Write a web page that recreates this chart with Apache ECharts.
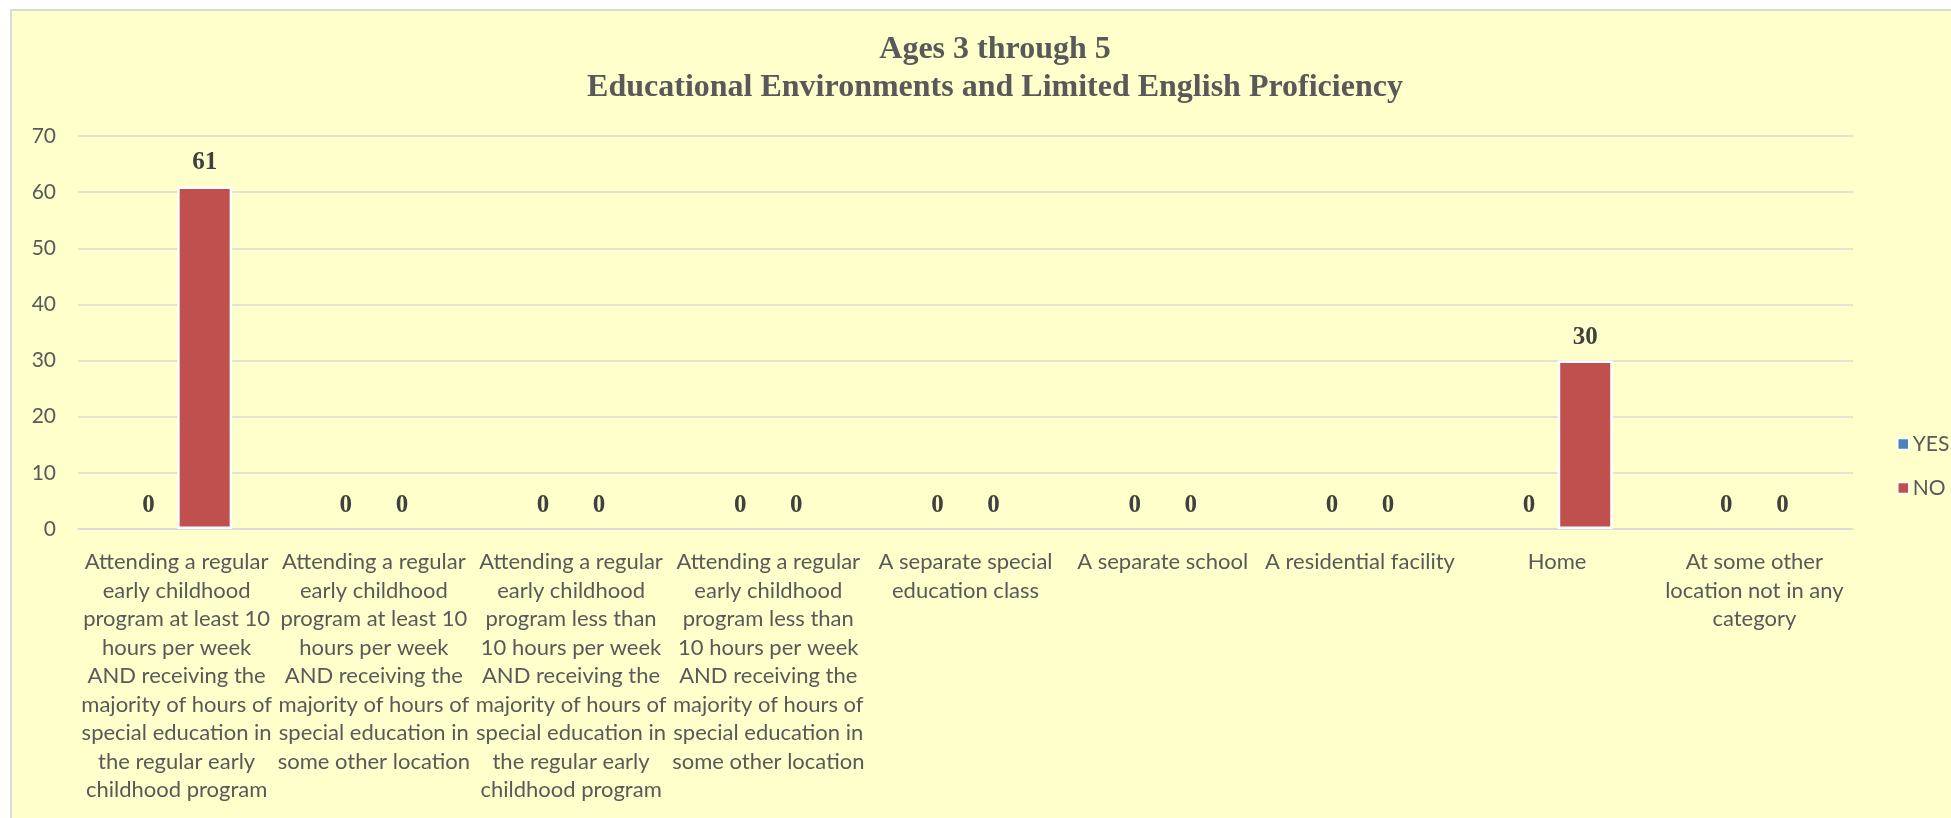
<!DOCTYPE html>
<html>
<head>
<meta charset="utf-8">
<title>Ages 3 through 5 - Educational Environments and Limited English Proficiency</title>
<script src="https://cdn.jsdelivr.net/npm/echarts@6/dist/echarts.min.js"></script>
<style>
  html, body { margin: 0; padding: 0; background: #ffffff; overflow: hidden; }
  .frame {
    position: absolute; left: 10px; top: 9px; width: 1960px; height: 830px;
    background: #ffffcc; border-left: 2px solid #d9d9d9; border-top: 2px solid #d9d9d9;
  }
  #chart { position: absolute; left: 0; top: 0; width: 1951px; height: 818px; }
</style>
</head>
<body>
<div class="frame"></div>
<div id="chart"></div>
<script>
// category labels, wrapped the way the original chart wraps them
const categories = [
  'Attending a regular\nearly childhood\nprogram at least 10\nhours per week\nAND receiving the\nmajority of hours of\nspecial education in\nthe regular early\nchildhood program',
  'Attending a regular\nearly childhood\nprogram at least 10\nhours per week\nAND receiving the\nmajority of hours of\nspecial education in\nsome other location',
  'Attending a regular\nearly childhood\nprogram less than\n10 hours per week\nAND receiving the\nmajority of hours of\nspecial education in\nthe regular early\nchildhood program',
  'Attending a regular\nearly childhood\nprogram less than\n10 hours per week\nAND receiving the\nmajority of hours of\nspecial education in\nsome other location',
  'A separate special\neducation class',
  'A separate school',
  'A residential facility',
  'Home',
  'At some other\nlocation not in any\ncategory'
]
const yesValues = [0, 0, 0, 0, 0, 0, 0, 0, 0]
const noValues = [61, 0, 0, 0, 0, 0, 0, 30, 0]
const yTicks = { min: 0, max: 70, interval: 10 }

const titleLines = ['Ages 3 through 5', 'Educational Environments and Limited English Proficiency']

const labelFont = 'Lato, "Open Sans", sans-serif'
const serifFont = '"Liberation Serif", "Times New Roman", serif'

// zero bars get no white outline so they don't paint over the axis line
function barData(values) {
  return values.map((v) => (v === 0 ? { value: v, itemStyle: { borderWidth: 0 } } : v))
}

function barSeries(name, values, color) {
  return {
    name,
    type: 'bar',
    barWidth: 55,
    barGap: '2%',
    data: barData(values),
    itemStyle: { color, borderColor: '#ffffff', borderWidth: 2.5 },
    label: {
      show: true,
      position: 'top',
      distance: 11,
      fontFamily: serifFont,
      fontWeight: 'bold',
      fontSize: 25,
      color: '#404040'
    }
  }
}

const chart = echarts.init(document.getElementById('chart'), null, { renderer: 'canvas' })

chart.setOption({
  backgroundColor: 'transparent',
  animation: false,
  title: {
    text: titleLines.join('\n'),
    left: 990,
    top: 26,
    textAlign: 'center',
    textStyle: {
      fontFamily: serifFont,
      fontWeight: 'bold',
      fontSize: 32,
      lineHeight: 38,
      color: '#595959'
    }
  },
  legend: {
    orient: 'vertical',
    left: 1897,
    top: 433,
    padding: 0,
    itemWidth: 11,
    itemHeight: 11,
    itemGap: 22,
    icon: 'rect',
    itemStyle: { borderColor: '#ffffff', borderWidth: 1.5 },
    textStyle: { fontFamily: labelFont, fontSize: 21, lineHeight: 22, color: '#595959', padding: [0, 0, 0, -1] },
    data: ['YES', 'NO']
  },
  grid: {
    left: 78,
    right: 98,
    top: 136,
    bottom: 289,
    outerBoundsMode: 'none'
  },
  xAxis: {
    type: 'category',
    data: categories,
    axisLine: { lineStyle: { color: '#d9d9d9', width: 1.5 } },
    axisTick: { show: false },
    axisLabel: {
      interval: 0,
      hideOverlap: false,
      margin: 19,
      fontFamily: labelFont,
      fontSize: 22,
      lineHeight: 28.5,
      color: '#595959',
      align: 'center'
    }
  },
  yAxis: {
    type: 'value',
    min: yTicks.min,
    max: yTicks.max,
    interval: yTicks.interval,
    axisLine: { show: false },
    axisTick: { show: false },
    axisLabel: { margin: 22, fontFamily: labelFont, fontSize: 21, color: '#595959' },
    splitLine: { lineStyle: { color: '#d9d9d9', width: 1.5 } }
  },
  series: [
    barSeries('YES', yesValues, '#4f81bd'),
    barSeries('NO', noValues, '#c0504d')
  ]
})
</script>
</body>
</html>
